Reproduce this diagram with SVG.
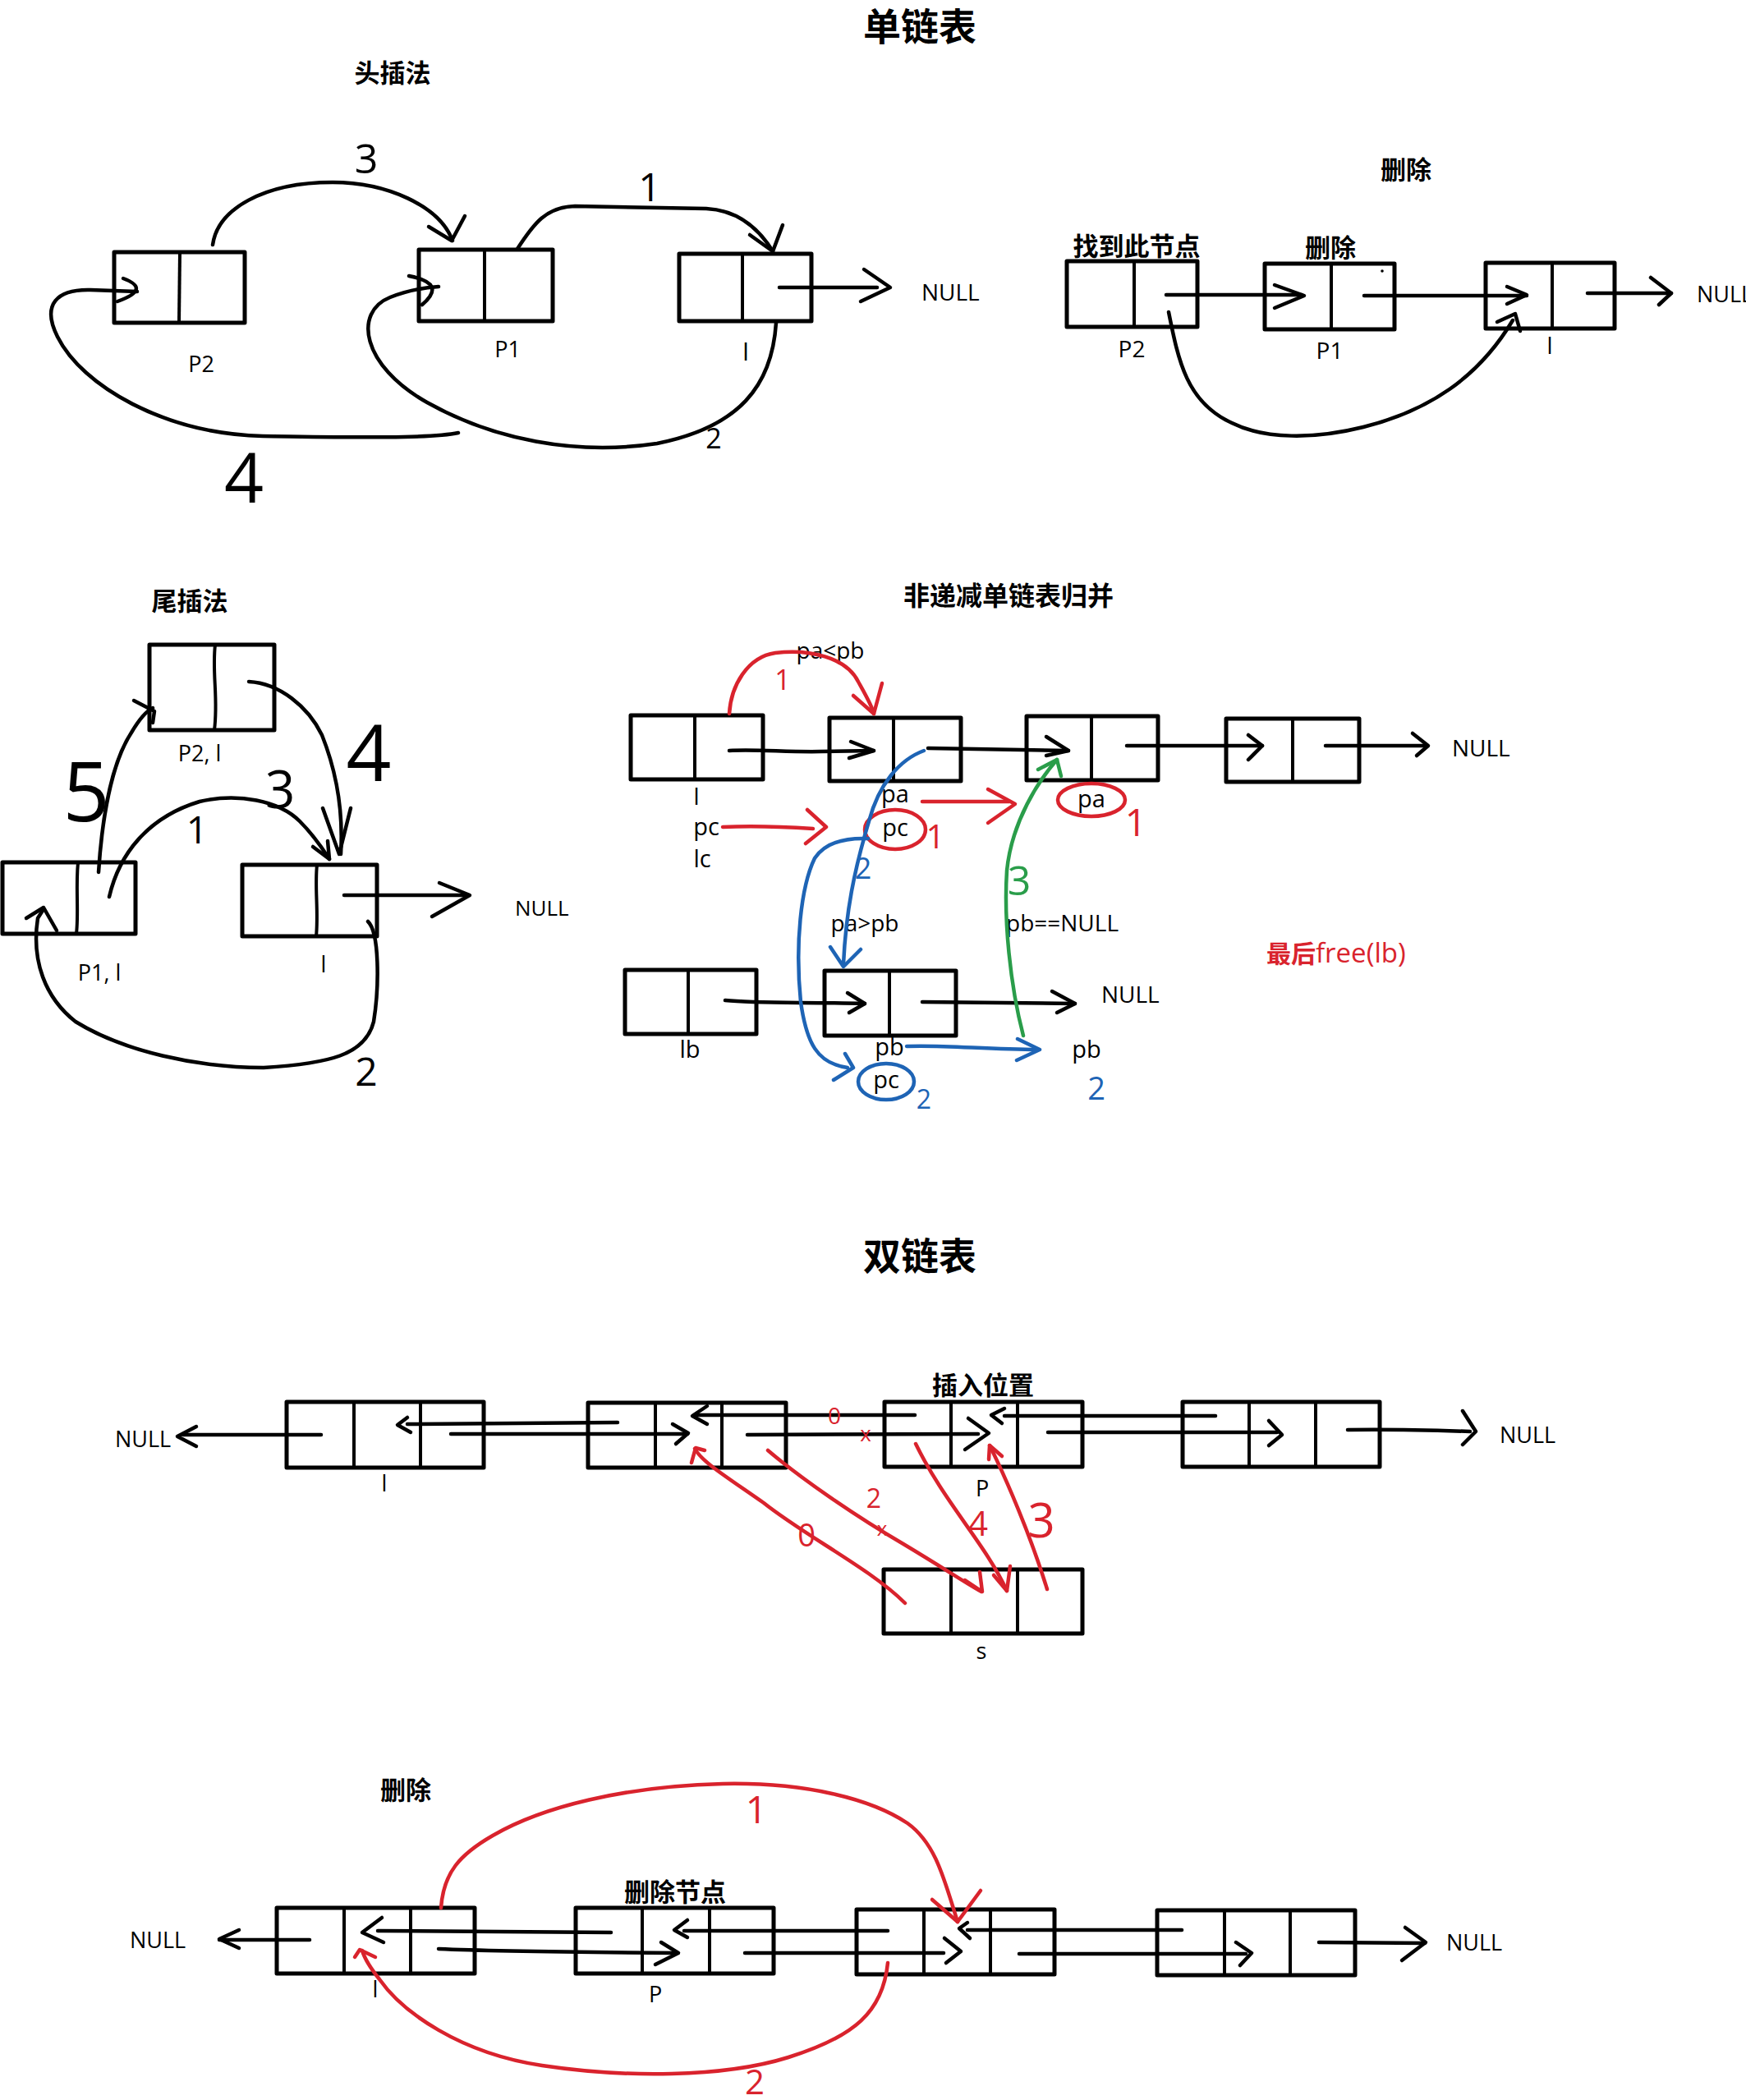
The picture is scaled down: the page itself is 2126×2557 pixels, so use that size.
<svg xmlns="http://www.w3.org/2000/svg" width="2126" height="2557" viewBox="0 0 2126 2557">
<style>
.box rect{fill:none;stroke:#000;stroke-width:5;stroke-linejoin:round}
.box line,.box path{fill:none;stroke:#000;stroke-width:4;stroke-linecap:round}
.c path,.c polyline,.c ellipse{fill:none;stroke-width:4.5;stroke-linecap:round;stroke-linejoin:round}
.k{stroke:#000}
.r{stroke:#d9232d}
.b{stroke:#1e64b5}
.g{stroke:#2a9d4a}
.t{font-family:"Noto Sans CJK SC","Noto Sans",sans-serif;font-weight:700;fill:#000;text-anchor:middle}
.h{font-family:"Open Sans","DejaVu Sans",sans-serif;font-weight:400;fill:#000}
.m{text-anchor:middle}
.hr{fill:#d9232d}
.hb{fill:#1e64b5}
.hg{fill:#2a9d4a}
</style>
<rect x="0" y="0" width="2126" height="2557" fill="#fff"/>

<!-- titles -->
<g id="titles">
<text class="t" x="1120" y="49" font-size="46">单链表</text>
<text class="t" x="478" y="100" font-size="31">头插法</text>
<text class="t" x="1712" y="218" font-size="31">删除</text>
<text class="t" x="1384" y="311" font-size="31">找到此节点</text>
<text class="t" x="1620" y="313" font-size="31">删除</text>
<text class="t" x="231" y="743" font-size="31">尾插法</text>
<text class="t" x="1228" y="737" font-size="32">非递减单链表归并</text>
<text x="1542" y="1172" font-size="30"><tspan class="t" style="fill:#d9232d;text-anchor:start">最后</tspan><tspan class="h hr" font-size="33">free(lb)</tspan></text>
<text class="t" x="1120" y="1546" font-size="46">双链表</text>
<text class="t" x="1197" y="1698" font-size="31">插入位置</text>
<text class="t" x="494" y="2191" font-size="31">删除</text>
<text class="t" x="822" y="2315" font-size="31">删除节点</text>
</g>

<!-- section 1: head insert -->
<g id="head-p2" class="box"><rect x="139" y="307" width="159" height="86"/><line x1="219" y1="307" x2="218" y2="393"/><text class="h m" x="245" y="453" font-size="27">P2</text></g>
<g id="head-p1" class="box"><rect x="510" y="304" width="163" height="87"/><line x1="590" y1="304" x2="590" y2="391"/><text class="h m" x="618" y="435" font-size="27">P1</text></g>
<g id="head-l" class="box"><rect x="827" y="309" width="161" height="82"/><line x1="904" y1="309" x2="904" y2="391"/><text class="h m" x="908" y="439" font-size="30">l</text></g>
<g id="head-null"><text class="h" x="1122" y="366" font-size="28">NULL</text></g>

<!-- section 2: delete (single) -->
<g id="del-p2" class="box"><rect x="1299" y="318" width="159" height="80"/><line x1="1381" y1="318" x2="1381" y2="398"/><text class="h m" x="1378" y="435" font-size="28">P2</text></g>
<g id="del-p1" class="box"><rect x="1540" y="321" width="158" height="80"/><line x1="1621" y1="321" x2="1621" y2="401"/><circle cx="1683" cy="330" r="1.8" fill="#000"/><text class="h m" x="1619" y="437" font-size="28">P1</text></g>
<g id="del-l" class="box"><rect x="1809" y="320" width="157" height="80"/><line x1="1890" y1="320" x2="1890" y2="400"/><text class="h m" x="1887" y="431" font-size="28">l</text></g>
<g id="del-null"><text class="h" x="2066" y="368" font-size="27">NULL</text></g>

<!-- section 3: tail insert -->
<g id="tail-p2" class="box"><rect x="182" y="785" width="152" height="104"/><path d="M262,785 C258,820 266,850 261,889"/><text class="h m" x="243" y="927" font-size="27">P2, l</text></g>
<g id="tail-p1" class="box"><rect x="3" y="1050" width="162" height="87"/><path d="M95,1050 C92,1080 96,1110 93,1137"/><text class="h m" x="121" y="1194" font-size="27">P1, l</text></g>
<g id="tail-l" class="box"><rect x="295" y="1053" width="164" height="87"/><path d="M386,1053 C383,1080 388,1110 385,1140"/><text class="h m" x="394" y="1184" font-size="27">l</text></g>
<g id="tail-null"><text class="h" x="627" y="1115" font-size="26">NULL</text></g>

<!-- section 4: merge -->
<g id="mg-l" class="box"><rect x="768" y="871" width="161" height="78"/><line x1="846" y1="871" x2="846" y2="949"/><text class="h m" x="848" y="980" font-size="28">l</text></g>
<g id="mg-pa" class="box"><rect x="1010" y="874" width="160" height="77"/><line x1="1088" y1="874" x2="1088" y2="951"/><text class="h m" x="1090" y="977" font-size="29">pa</text></g>
<g id="mg-a3" class="box"><rect x="1250" y="872" width="160" height="78"/><line x1="1329" y1="872" x2="1329" y2="950"/></g>
<g id="mg-a4" class="box"><rect x="1493" y="875" width="162" height="77"/><line x1="1574" y1="875" x2="1574" y2="952"/></g>
<g id="mg-null1"><text class="h" x="1768" y="921" font-size="28">NULL</text></g>
<g id="mg-lb" class="box"><rect x="761" y="1181" width="160" height="78"/><line x1="838" y1="1181" x2="838" y2="1259"/><text class="h m" x="840" y="1288" font-size="29">lb</text></g>
<g id="mg-pb" class="box"><rect x="1004" y="1182" width="160" height="79"/><line x1="1083" y1="1182" x2="1083" y2="1261"/><text class="h m" x="1083" y="1285" font-size="29">pb</text></g>
<g id="mg-null2"><text class="h" x="1341" y="1221" font-size="28">NULL</text></g>
<g id="mg-labels">
<text class="h m" x="1011" y="802" font-size="28">pa&lt;pb</text>
<text class="h m" x="860" y="1017" font-size="29">pc</text>
<text class="h m" x="855" y="1056" font-size="29">lc</text>
<text class="h m" x="1329" y="983" font-size="29">pa</text>
<text class="h m" x="1090" y="1018" font-size="29">pc</text>
<text class="h m" x="1053" y="1134" font-size="28">pa&gt;pb</text>
<text class="h" x="1225" y="1134" font-size="28">pb==NULL</text>
<text class="h m" x="1079" y="1325" font-size="29">pc</text>
<text class="h m" x="1323" y="1288" font-size="29">pb</text>
</g>

<!-- section 5: double insert -->
<g id="dl-l" class="box"><rect x="349" y="1707" width="240" height="80"/><line x1="431" y1="1707" x2="431" y2="1787"/><line x1="512" y1="1707" x2="512" y2="1787"/><text class="h m" x="468" y="1816" font-size="27">l</text></g>
<g id="dl-n2" class="box"><rect x="716" y="1708" width="241" height="79"/><line x1="798" y1="1708" x2="798" y2="1787"/><line x1="879" y1="1708" x2="879" y2="1787"/></g>
<g id="dl-p" class="box"><rect x="1077" y="1707" width="241" height="79"/><line x1="1158" y1="1707" x2="1158" y2="1786"/><line x1="1239" y1="1707" x2="1239" y2="1786"/><text class="h m" x="1196" y="1822" font-size="27">P</text></g>
<g id="dl-n4" class="box"><rect x="1440" y="1707" width="240" height="79"/><line x1="1521" y1="1707" x2="1521" y2="1786"/><line x1="1602" y1="1707" x2="1602" y2="1786"/></g>
<g id="dl-s" class="box"><rect x="1076" y="1911" width="242" height="78"/><line x1="1158" y1="1911" x2="1158" y2="1989"/><line x1="1239" y1="1911" x2="1239" y2="1989"/><text class="h m" x="1195" y="2020" font-size="27">s</text></g>
<g id="dl-null-l"><text class="h m" x="174" y="1762" font-size="27">NULL</text></g>
<g id="dl-null-r"><text class="h" x="1826" y="1757" font-size="27">NULL</text></g>

<!-- section 6: double delete -->
<g id="dd-l" class="box"><rect x="337" y="2323" width="241" height="80"/><line x1="419" y1="2323" x2="419" y2="2403"/><line x1="500" y1="2323" x2="500" y2="2403"/><text class="h m" x="457" y="2432" font-size="27">l</text></g>
<g id="dd-p" class="box"><rect x="701" y="2323" width="241" height="80"/><line x1="782" y1="2323" x2="782" y2="2403"/><line x1="864" y1="2323" x2="864" y2="2403"/><text class="h m" x="798" y="2438" font-size="27">P</text></g>
<g id="dd-n3" class="box"><rect x="1043" y="2325" width="241" height="79"/><line x1="1125" y1="2325" x2="1125" y2="2404"/><line x1="1206" y1="2325" x2="1206" y2="2404"/></g>
<g id="dd-n4" class="box"><rect x="1409" y="2326" width="241" height="79"/><line x1="1491" y1="2326" x2="1491" y2="2405"/><line x1="1571" y1="2326" x2="1571" y2="2405"/></g>
<g id="dd-null-l"><text class="h m" x="192" y="2372" font-size="27">NULL</text></g>
<g id="dd-null-r"><text class="h" x="1761" y="2375" font-size="27">NULL</text></g>

<!-- connectors -->
<g id="connectors" class="c">
<!-- section 1 -->
<path class="k" d="M949,350 L1068,350"/><polyline class="k" points="1052,328 1084,350 1048,367"/>
<path class="k" d="M259,298 C265,255 320,222 405,222 C470,222 535,250 551,293"/><polyline class="k" points="522,276 550,293 566,263"/>
<path class="k" d="M630,303 C650,272 665,252 700,251 L860,254 C900,256 925,280 941,306"/><polyline class="k" points="913,286 941,306 953,274"/>
<path class="k" d="M945,393 C940,470 900,520 800,540 C700,555 600,535 520,490 C440,445 430,380 475,362 C500,352 520,350 534,349"/><path class="k" d="M498,336 Q545,345 514,371"/>
<path class="k" d="M558,527 C520,535 400,532 320,531 C200,528 100,470 70,410 C50,370 70,352 110,353 L167,355"/><path class="k" d="M150,339 Q185,352 143,367"/>
<!-- section 2 -->
<path class="k" d="M1420,359 L1585,359"/><polyline class="k" points="1552,347 1588,360 1552,375"/>
<path class="k" d="M1661,360 L1859,360"/><polyline class="k" points="1835,349 1859,359 1835,370"/>
<path class="k" d="M1933,357 L2035,357"/><polyline class="k" points="2010,338 2035,357 2020,371"/>
<path class="k" d="M1423,380 C1435,440 1445,490 1500,515 C1540,535 1600,535 1660,520 C1740,500 1800,460 1842,390"/><polyline class="k" points="1823,392 1845,382 1851,403"/>
<!-- section 3 -->
<path class="k" d="M419,1090 L569,1090"/><polyline class="k" points="535,1075 572,1090 526,1116"/>
<path class="k" d="M120,1062 C124,1000 135,930 160,892 C170,875 178,866 186,862"/><polyline class="k" points="163,853 188,866 186,880"/>
<path class="k" d="M133,1092 C145,1040 180,995 243,976 C290,965 340,975 365,1000 C380,1015 392,1032 401,1046"/><polyline class="k" points="381,1031 401,1046 399,1024"/>
<path class="k" d="M303,830 C340,832 375,860 392,895 C410,940 418,990 415,1040"/><polyline class="k" points="393,984 413,1040 427,984"/>
<path class="k" d="M448,1122 C462,1135 462,1200 455,1244 C445,1285 400,1295 321,1300 C240,1300 150,1280 92,1244 C55,1215 38,1170 46,1118 L53,1107"/><polyline class="k" points="32,1118 53,1105 69,1133"/>
<!-- section 4 black -->
<path class="k" d="M888,914 C920,912 960,916 1000,915 L1064,914"/><polyline class="k" points="1036,903 1064,914 1034,923"/>
<path class="k" d="M1130,911 L1301,914"/><polyline class="k" points="1274,897 1301,914 1274,920"/>
<path class="k" d="M1372,908 L1537,908"/><polyline class="k" points="1520,895 1537,908 1520,925"/>
<path class="k" d="M1614,908 L1737,908"/><polyline class="k" points="1720,893 1739,908 1725,920"/>
<path class="k" d="M883,1218 C920,1222 980,1220 1053,1222"/><polyline class="k" points="1032,1209 1053,1222 1034,1233"/>
<path class="k" d="M1123,1220 L1309,1222"/><polyline class="k" points="1281,1207 1309,1222 1287,1233"/>
<!-- section 4 red -->
<path class="r" d="M888,869 C890,835 910,800 944,795 C985,790 1030,800 1045,830 C1055,848 1062,860 1064,869"/><polyline class="r" points="1039,847 1064,869 1074,832"/>
<path class="r" d="M1123,976 L1229,976"/><polyline class="r" points="1203,961 1236,979 1203,1002"/>
<ellipse class="r" cx="1329" cy="974" rx="41" ry="20"/>
<path class="r" d="M880,1007 C920,1005 960,1007 990,1009"/><polyline class="r" points="983,986 1006,1007 981,1027"/>
<ellipse class="r" cx="1090" cy="1010" rx="37" ry="24"/>
<!-- section 4 blue -->
<path class="b" d="M1125,914 C1095,925 1070,955 1058,1000 C1040,1060 1030,1110 1027,1174"/><polyline class="b" points="1011,1153 1027,1177 1048,1156"/>
<path class="b" d="M1057,1021 C1030,1020 1005,1025 992,1045 C975,1080 968,1150 975,1220 C982,1270 995,1295 1032,1300"/><polyline class="b" points="1029,1283 1039,1300 1015,1315"/>
<ellipse class="b" cx="1079" cy="1317" rx="34" ry="22"/>
<path class="b" d="M1104,1274 C1150,1272 1200,1278 1264,1278"/><polyline class="b" points="1239,1265 1266,1278 1238,1291"/>
<!-- section 4 green -->
<path class="g" d="M1246,1261 C1230,1200 1222,1120 1226,1060 C1232,1000 1265,950 1287,925"/><polyline class="g" points="1264,937 1287,925 1292,945"/>
<!-- section 5 black -->
<path class="k" d="M391,1747 L223,1747"/><polyline class="k" points="239,1737 216,1749 239,1761"/>
<path class="k" d="M549,1746 L837,1746"/><polyline class="k" points="819,1734 838,1745 823,1758"/>
<path class="k" d="M752,1732 L496,1734"/><polyline class="k" points="496,1726 484,1735 500,1744"/>
<path class="k" d="M910,1747 L1191,1746"/><polyline class="k" points="1179,1727 1204,1745 1175,1765"/>
<path class="k" d="M1114,1723 L847,1723"/><polyline class="k" points="861,1712 843,1724 861,1734"/>
<path class="k" d="M1276,1744 L1555,1744"/><polyline class="k" points="1545,1730 1561,1747 1545,1760"/>
<path class="k" d="M1480,1724 L1223,1724"/><polyline class="k" points="1223,1715 1207,1723 1220,1733"/>
<path class="k" d="M1641,1741 C1700,1740 1760,1742 1790,1743"/><polyline class="k" points="1781,1718 1797,1743 1781,1759"/>
<!-- section 5 red -->
<path class="r" d="M1102,1952 C1060,1910 980,1870 930,1830 C880,1795 855,1780 846,1764"/><polyline class="r" points="842,1781 847,1763 858,1766"/>
<path class="r" d="M935,1766 C975,1800 1040,1845 1100,1880 C1150,1910 1180,1930 1195,1938"/><polyline class="r" points="1175,1924 1196,1938 1193,1914"/>
<path class="r" d="M1115,1758 C1150,1830 1200,1880 1226,1937"/><polyline class="r" points="1210,1918 1226,1937 1230,1907"/>
<path class="r" d="M1275,1935 C1255,1870 1225,1800 1205,1760"/><polyline class="r" points="1204,1777 1205,1760 1220,1773"/>
<!-- section 6 black -->
<path class="k" d="M377,2362 L267,2362"/><polyline class="k" points="291,2350 267,2361 291,2372"/>
<path class="k" d="M744,2353 L460,2351"/><polyline class="k" points="465,2335 441,2353 467,2365"/>
<path class="k" d="M534,2373 C600,2376 700,2377 824,2378"/><polyline class="k" points="805,2365 826,2378 798,2392"/>
<path class="k" d="M1081,2351 L833,2351"/><polyline class="k" points="837,2338 821,2350 837,2359"/>
<path class="k" d="M907,2378 L1149,2378"/><polyline class="k" points="1150,2360 1170,2376 1152,2390"/>
<path class="k" d="M1439,2350 L1178,2350"/><polyline class="k" points="1178,2341 1168,2348 1181,2360"/>
<path class="k" d="M1241,2379 L1517,2379"/><polyline class="k" points="1505,2365 1524,2378 1510,2393"/>
<path class="k" d="M1606,2365 L1735,2366"/><polyline class="k" points="1711,2347 1736,2365 1707,2387"/>
<!-- section 6 red -->
<path class="r" d="M537,2323 C540,2280 560,2258 600,2235 C660,2200 760,2175 880,2172 C980,2170 1060,2190 1105,2220 C1140,2245 1150,2290 1166,2340"/><polyline class="r" points="1135,2313 1166,2340 1194,2302"/>
<path class="r" d="M1081,2390 C1075,2450 1040,2480 960,2505 C880,2530 760,2530 660,2515 C560,2500 490,2450 462,2410 C450,2395 444,2385 441,2375"/><polyline class="r" points="432,2383 438,2374 457,2383"/>
</g>

<!-- step labels -->
<g id="step-labels">
<text class="h m" x="446" y="211" font-size="50">3</text>
<text class="h m" x="791" y="245" font-size="48">1</text>
<text class="h m" x="869" y="546" font-size="34">2</text>
<text class="h m" x="297" y="612" font-size="84">4</text>
<text class="h m" x="105" y="1000" font-size="100">5</text>
<text class="h m" x="240" y="1027" font-size="46">1</text>
<text class="h m" x="341" y="984" font-size="64">3</text>
<text class="h m" x="449" y="951" font-size="96">4</text>
<text class="h m" x="446" y="1322" font-size="48">2</text>
<text class="h m hr" x="953" y="840" font-size="34">1</text>
<text class="h m hr" x="1383" y="1018" font-size="46">1</text>
<text class="h m hr" x="1139" y="1033" font-size="40">1</text>
<text class="h m hb" x="1051" y="1070" font-size="36">2</text>
<text class="h m hb" x="1125" y="1350" font-size="32">2</text>
<text class="h m hb" x="1335" y="1339" font-size="38">2</text>
<text class="h m hg" x="1241" y="1090" font-size="50">3</text>
<text class="h m hr" x="1016" y="1734" font-size="28">0</text>
<text class="h m hr" x="1054" y="1755" font-size="26">x</text>
<text class="h m hr" x="982" y="1883" font-size="38">0</text>
<text class="h m hr" x="1064" y="1836" font-size="32">2</text>
<text class="h m hr" x="1074" y="1870" font-size="24">x</text>
<text class="h m hr" x="1191" y="1870" font-size="42">4</text>
<text class="h m hr" x="1268" y="1872" font-size="58">3</text>
<text class="h m hr" x="921" y="2220" font-size="46">1</text>
<text class="h m hr" x="919" y="2550" font-size="42">2</text>
</g>
</svg>
